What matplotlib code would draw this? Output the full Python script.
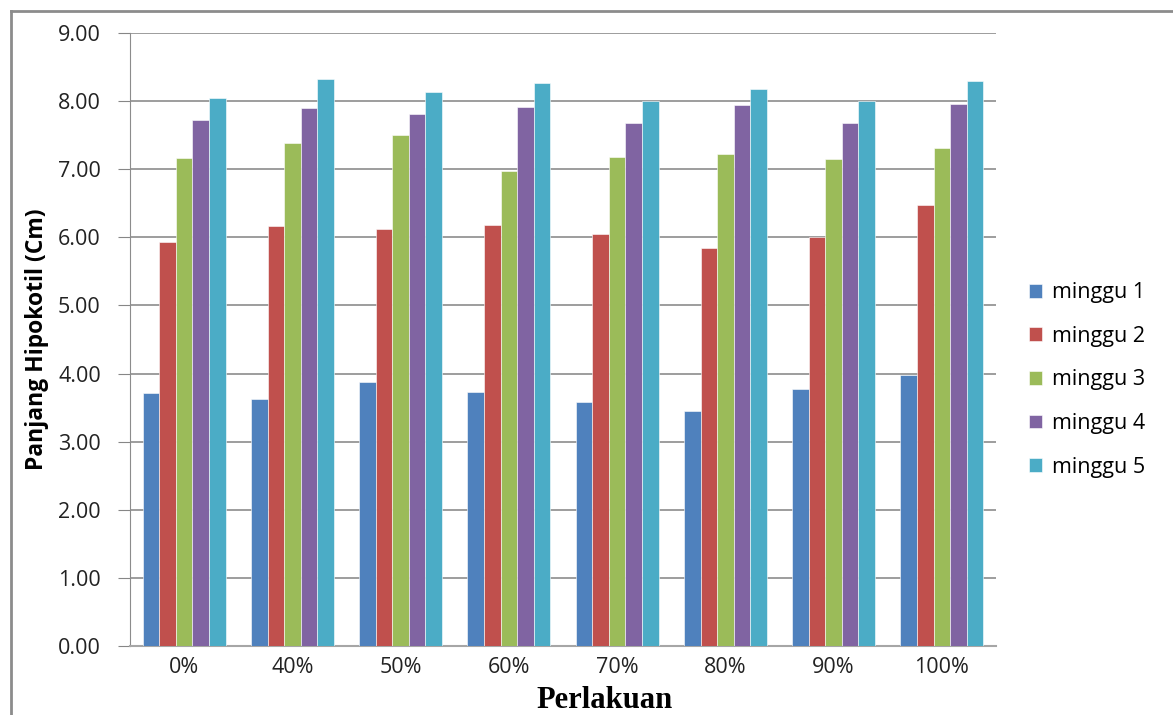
import matplotlib.pyplot as plt
import numpy as np
from matplotlib.lines import Line2D

# data
perlakuan = ["0%", "40%", "50%", "60%", "70%", "80%", "90%", "100%"]
minggu_1 = [3.72, 3.62, 3.87, 3.73, 3.58, 3.45, 3.77, 3.98]
minggu_2 = [5.93, 6.16, 6.12, 6.18, 6.05, 5.85, 6.00, 6.47]
minggu_3 = [7.16, 7.39, 7.50, 6.97, 7.18, 7.22, 7.15, 7.31]
minggu_4 = [7.73, 7.90, 7.81, 7.92, 7.68, 7.94, 7.68, 7.96]
minggu_5 = [8.05, 8.32, 8.13, 8.26, 8.00, 8.18, 8.00, 8.30]
series = [minggu_1, minggu_2, minggu_3, minggu_4, minggu_5]
labels = ["minggu 1", "minggu 2", "minggu 3", "minggu 4", "minggu 5"]
colors = ["#4F81BD", "#C0504D", "#9BBB59", "#8064A2", "#4BACC6"]

plt.rcParams['font.family'] = ['Open Sans', 'DejaVu Sans']

fig = plt.figure(figsize=(11.73, 7.15), dpi=100)
ax = fig.add_axes([130 / 1173, 1 - 646 / 715, 866 / 1173, 613 / 715])

x = np.arange(len(perlakuan))
w = 0.153
for i, (vals, lab, c) in enumerate(zip(series, labels, colors)):
    ax.bar(x + (i - 2) * w, vals, w, color=c, label=lab,
           edgecolor="white", linewidth=0.4, zorder=3)

ax.set_xlim(-0.5, len(perlakuan) - 0.5)
ax.set_ylim(0, 9)
ax.set_yticks(np.arange(0, 9.01, 1))
ax.set_yticklabels([f"{v:.2f}" for v in np.arange(0, 9.01, 1)])
ax.set_xticks(x)
ax.set_xticklabels(perlakuan)
ax.tick_params(axis="y", length=9, color="#868686", labelsize=15.5, pad=12,
               labelcolor="#222222")
ax.tick_params(axis="x", length=0, labelsize=15.5, pad=8, labelcolor="#222222")
ax.grid(axis="y", color="#8C8C8C", linewidth=1.2, zorder=0)
for s in ["top", "right"]:
    ax.spines[s].set_visible(False)
ax.spines["left"].set_color("#8C8C8C")
ax.spines["bottom"].set_color("#A6A6A6")
ax.spines["bottom"].set_linewidth(1.5)

ax.set_ylabel("Panjang Hipokotil (Cm)", fontsize=16.5, fontweight="bold")
ax.yaxis.set_label_coords(-0.094, 0.5)

fig.text(605 / 1173, 1 - 700 / 715, "Perlakuan", ha="center", va="center",
         family="Liberation Serif", fontweight="bold", fontsize=22)

ax.legend(loc="center left", bbox_to_anchor=(1010 / 1173, 1 - 380 / 715),
          bbox_transform=fig.transFigure, frameon=False, fontsize=15.5,
          handlelength=0.6, handleheight=0.6, handletextpad=0.45,
          labelspacing=1.05)

# outer chart border (top and left)
fig.add_artist(Line2D([11 / 1173, 1], [1 - 11 / 715, 1 - 11 / 715],
                      color="#8C8C8C", linewidth=2, transform=fig.transFigure))
fig.add_artist(Line2D([11 / 1173, 11 / 1173], [0, 1 - 11 / 715],
                      color="#8C8C8C", linewidth=2, transform=fig.transFigure))

fig.savefig("out.png", dpi=100)
